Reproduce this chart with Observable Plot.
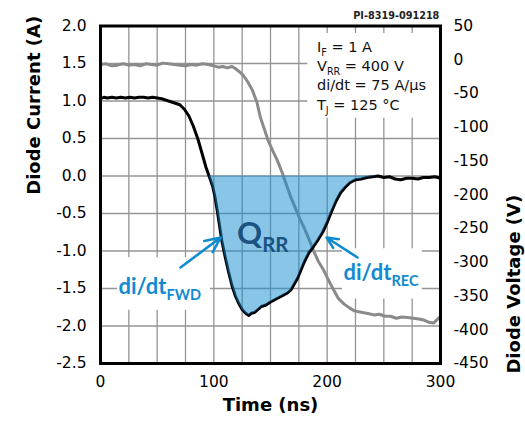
<!DOCTYPE html>
<html><head><meta charset="utf-8">
<script src="https://cdn.jsdelivr.net/npm/d3@7"></script>
<script src="https://cdn.jsdelivr.net/npm/@observablehq/plot@0.6"></script>
<style>body{margin:0;background:#fff}</style>
</head><body><div id="chart"></div>
<script>
// ---- data ----
const currentTime = [0,3,6,10,14,18,22,26,30,34,38,42,46,50,54,58,62,66,70,74,78,82,86,90,93,96,97,99,101,103,105,107,110,113,116,119,122,125,128,131,133,136,139,142,146,150,155,160,165,168,171,174,177,180,184,188,192,196,200,204,208,212,216,220,225,230,235,240,245,250,255,260,265,270,275,280,285,290,295,300];
const currentA    = [1.03,1.05,1.04,1.05,1.04,1.05,1.04,1.05,1.04,1.05,1.05,1.04,1.05,1.04,1.03,1.01,0.99,0.97,0.95,0.89,0.80,0.66,0.49,0.28,0.12,-0.01,-0.05,-0.14,-0.28,-0.46,-0.66,-0.86,-1.08,-1.28,-1.46,-1.60,-1.70,-1.78,-1.83,-1.86,-1.83,-1.82,-1.78,-1.74,-1.72,-1.68,-1.64,-1.60,-1.56,-1.52,-1.44,-1.36,-1.25,-1.14,-1.02,-0.94,-0.85,-0.75,-0.62,-0.47,-0.33,-0.22,-0.15,-0.09,-0.05,-0.04,-0.02,-0.01,0.0,-0.02,-0.01,-0.04,-0.05,-0.03,-0.03,-0.04,-0.02,-0.02,-0.01,-0.03];
const voltageTime = [0,5,10,15,20,25,30,35,40,45,50,55,60,65,70,75,80,85,90,95,100,104,108,112,116,119,122,126,130,134,138,141,144,148,152,156,160,164,168,172,176,180,184,188,192,197,201,206,210,215,220,224,230,236,241,246,251,256,261,266,271,276,281,286,290,294,297,300];
const voltageV    = [-7,-6,-9,-8,-6,-8,-7,-9,-6,-7,-8,-5,-6,-7,-8,-9,-7,-8,-6,-7,-9,-11,-10,-12,-10,-13,-17,-23,-33,-45,-63,-85,-100,-120,-135,-149,-166,-185,-204,-220,-236,-250,-266,-283,-298,-312,-326,-342,-354,-362,-368,-372,-374,-376,-378,-377,-380,-380,-383,-381,-382,-383,-384,-386,-389,-390,-385,-380];

const timeTicks = [0, 100, 200, 300];
const currentTicks = [2.0, 1.5, 1.0, 0.5, 0.0, -0.5, -1.0, -1.5, -2.0, -2.5];
const voltageTicks = [50, 0, -50, -100, -150, -200, -250, -300, -350, -400, -450];
const gridTimes = [25, 50, 75, 100, 125, 150, 175, 200, 225, 250, 275];
const gridCurrents = [1.5, 1.0, 0.5, 0.0, -0.5, -1.0, -1.5, -2.0];

const conditionLines = ["I_{F} = 1 A", "V_{RR} = 400 V", "di/dt = 75 A/µs", "T_{J} = 125 °C"];
const figureId = "PI-8319-091218";
const qrrLabel = "Q_{RR}";
const fwdLabel = "di/dt_{FWD}";
const recLabel = "di/dt_{REC}";
const xLabel = "Time (ns)";
const yLabel = "Diode Current (A)";
const y2Label = "Diode Voltage (V)";

// ---- build tables ----
const current = currentTime.map((t, i) => ({t, a: currentA[i]}));
const voltage = voltageTime.map((t, i) => ({t, v: voltageV[i]}));
// voltage axis (right) maps 50 V -> 2.0 A and -450 V -> -2.5 A
const vToA = v => 2 + (v - 50) * 0.009;
const aToV = a => Math.round((a - 2) / 0.009 + 50);

const blue = "#108bd0";
const lineY = [1.66, 1.405, 1.145, 0.88];
const conditions = conditionLines.map((s, i) => ({s, t: 191, a: lineY[i]}));
const whiteBoxes = [
  {t1: 183, t2: 300, a1: 0.77, a2: 1.9},
  {t1: 15, t2: 97, a1: -1.79, a2: -1.09},
  {t1: 213.5, t2: 284, a1: -1.64, a2: -0.97}
];
const arrows = [
  {t1: 70.6, a1: -1.22, t2: 106, a2: -0.82},
  {t1: 226.8, a1: -1.087, t2: 199.5, a2: -0.82}
];

const chart = Plot.plot({
  width: 525,
  height: 426,
  marginLeft: 100,
  marginRight: 85,
  marginTop: 25.5,
  marginBottom: 63,
  x: {domain: [0, 300]},
  y: {domain: [-2.5, 2]},
  style: {fontFamily: "DejaVu Sans", fontSize: "15.5px", color: "#000", background: "#fff"},
  marks: [
    Plot.ruleX(gridTimes, {stroke: "#949494", strokeWidth: 1.3}),
    Plot.ruleY(gridCurrents, {stroke: "#949494", strokeWidth: 1.3}),
    Plot.rect(whiteBoxes, {x1: "t1", x2: "t2", y1: "a1", y2: "a2", fill: "white"}),
    Plot.line(voltage, {x: "t", y: d => vToA(d.v), stroke: "#8a8a8a", strokeWidth: 3}),
    Plot.line(current, {x: "t", y: "a", stroke: "#000", strokeWidth: 3}),
    Plot.areaY(current.filter(d => d.t >= 96 && d.t <= 246), {x: "t", y1: 0, y2: d => Math.min(d.a, 0), fill: "#138bcd", fillOpacity: 0.5}),
    Plot.frame({stroke: "#000", strokeWidth: 3}),
    Plot.axisX({ticks: timeTicks, tickSize: 0, tickPadding: 12, label: null, tickFormat: d => String(d)}),
    Plot.axisY({ticks: currentTicks, tickSize: 0, tickPadding: 14, label: null, tickFormat: d => d.toFixed(1)}),
    Plot.axisY({anchor: "right", ticks: voltageTicks.map(vToA), tickSize: 0, tickPadding: 13, label: null, tickFormat: d => String(aToV(d))}),
    Plot.text(conditions, {x: "t", y: "a", text: "s", textAnchor: "start", lineAnchor: "bottom", fontSize: 14.5, fill: "#111"}),
    Plot.text([figureId], {x: () => 299, y: () => 2.087, text: d => d, textAnchor: "end", lineAnchor: "bottom", fontSize: 9.7, fontWeight: "bold", fill: "#222"}),
    Plot.text([qrrLabel], {x: () => 120.5, y: () => -0.9, text: d => d, textAnchor: "start", lineAnchor: "bottom", fontFamily: "Lato", fontWeight: "bold", fontSize: 31, fill: "#1a5282"}),
    Plot.text([fwdLabel], {x: () => 15.9, y: () => -1.571, text: d => d, textAnchor: "start", lineAnchor: "bottom", fontFamily: "Lato", fontWeight: "bold", fontSize: 22, fill: blue}),
    Plot.text([recLabel], {x: () => 214.4, y: () => -1.393, text: d => d, textAnchor: "start", lineAnchor: "bottom", fontFamily: "Lato", fontWeight: "bold", fontSize: 22, fill: blue}),
    Plot.arrow(arrows, {x1: "t1", y1: "a1", x2: "t2", y2: "a2", stroke: blue, strokeWidth: 2.6, headLength: 11, headAngle: 50}),
    Plot.text([xLabel], {frameAnchor: "bottom", dy: 47, text: d => d, fontWeight: "bold", fontSize: 18}),
    Plot.text([yLabel], {frameAnchor: "left", dx: -66, rotate: -90, text: d => d, fontWeight: "bold", fontSize: 18}),
    Plot.text([y2Label], {frameAnchor: "right", dx: 74, rotate: -90, text: d => d, fontWeight: "bold", fontSize: 18})
  ]
});

document.getElementById("chart").appendChild(chart);

// turn "X_{sub}" into real subscripts
d3.select(chart).selectAll("text").each(function() {
  const el = this;
  const s = el.textContent;
  if (!s.includes("_{")) return;
  const fs = parseFloat(getComputedStyle(el).fontSize);
  el.textContent = "";
  const re = /_\{([^}]*)\}/g;
  let last = 0, m;
  while ((m = re.exec(s)) !== null) {
    if (m.index > last) d3.select(el).append("tspan").text(s.slice(last, m.index));
    d3.select(el).append("tspan").text(m[1])
      .attr("font-size", (fs * 0.66).toFixed(1) + "px")
      .attr("baseline-shift", (-fs * 0.27).toFixed(1) + "px");
    last = re.lastIndex;
  }
  if (last < s.length) d3.select(el).append("tspan").text(s.slice(last));
});
</script>
</body></html>
